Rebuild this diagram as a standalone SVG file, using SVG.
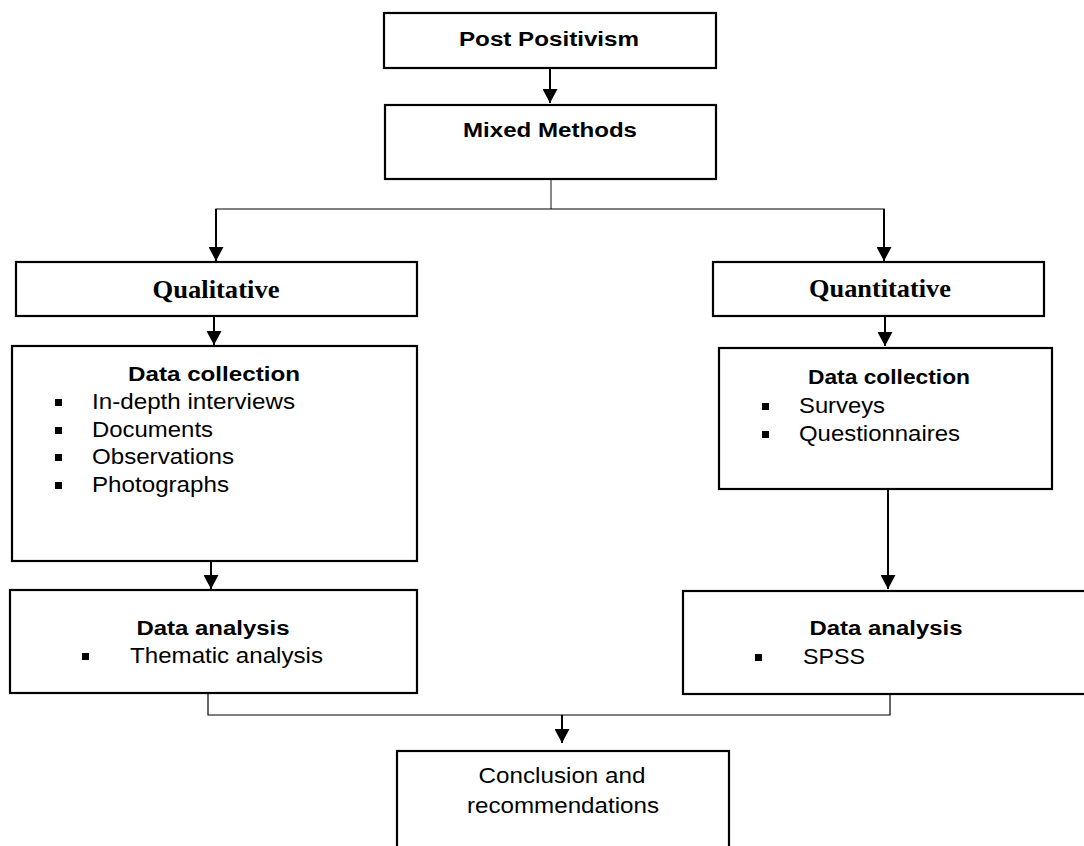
<svg xmlns="http://www.w3.org/2000/svg" width="1084" height="846" viewBox="0 0 1084 846">
<defs>
<marker id="ah" viewBox="0 0 14 15" refX="14" refY="7.5" markerWidth="14" markerHeight="15" markerUnits="userSpaceOnUse" orient="auto">
<path d="M0,0 L14,7.5 L0,15 z" fill="#000"/>
</marker>
</defs>
<style>
.box{fill:#fff;stroke:#000;stroke-width:2.2}
.arr{stroke:#000;stroke-width:2;fill:none}
.thin{stroke:#000;stroke-width:1.2;fill:none}
.stem{stroke:#555;stroke-width:1.4;fill:none}
.hb{font-family:"Liberation Sans",Arial,sans-serif;font-weight:bold;font-size:20px;fill:#000}
.ht{font-family:"Liberation Serif","Times New Roman",serif;font-weight:bold;font-size:26px;fill:#000}
.it{font-family:"Liberation Sans",Arial,sans-serif;font-size:22px;fill:#000}
.cn{font-family:"Liberation Sans",Arial,sans-serif;font-size:22px;fill:#000}
.bul{fill:#000}
</style>
<rect width="1084" height="846" fill="#fff"/>
<g id="connectors">
<line class="arr" x1="550" y1="68" x2="550" y2="103" marker-end="url(#ah)"/>
<line class="stem" x1="551" y1="180" x2="551" y2="209"/>
<polyline class="thin" points="216,261 216,209 884,209 884,261"/>
<line class="arr" x1="216" y1="209" x2="216" y2="261" marker-end="url(#ah)"/>
<line class="arr" x1="884" y1="209" x2="884" y2="261" marker-end="url(#ah)"/>
<line class="arr" x1="214" y1="316" x2="214" y2="345" marker-end="url(#ah)"/>
<line class="arr" x1="885" y1="316" x2="885" y2="346" marker-end="url(#ah)"/>
<line class="arr" x1="211" y1="561" x2="211" y2="589" marker-end="url(#ah)"/>
<line class="arr" x1="888" y1="489" x2="888" y2="589" marker-end="url(#ah)"/>
<polyline class="thin" points="208,693 208,715 890,715 890,694"/>
<line class="arr" x1="562" y1="715" x2="562" y2="743" marker-end="url(#ah)"/>
</g>
<g id="post-positivism">
<rect class="box" x="384" y="13" width="332" height="55"/>
<text class="hb" x="549" y="46" text-anchor="middle" textLength="180" lengthAdjust="spacingAndGlyphs">Post Positivism</text>
</g>
<g id="mixed-methods">
<rect class="box" x="385" y="105" width="331" height="74"/>
<text class="hb" x="550" y="137" text-anchor="middle" textLength="174" lengthAdjust="spacingAndGlyphs">Mixed Methods</text>
</g>
<g id="qualitative">
<rect class="box" x="16" y="262" width="401" height="54"/>
<text class="ht" x="216" y="298" text-anchor="middle" textLength="127" lengthAdjust="spacingAndGlyphs">Qualitative</text>
</g>
<g id="quantitative">
<rect class="box" x="713" y="262" width="331" height="54"/>
<text class="ht" x="880" y="297" text-anchor="middle" textLength="142" lengthAdjust="spacingAndGlyphs">Quantitative</text>
</g>
<g id="qual-data-collection">
<rect class="box" x="12" y="346" width="405" height="215"/>
<text class="hb" x="214" y="381" text-anchor="middle" textLength="172" lengthAdjust="spacingAndGlyphs">Data collection</text>
<rect class="bul" x="55" y="399" width="7" height="7"/>
<text class="it" x="92" y="409" textLength="203" lengthAdjust="spacingAndGlyphs">In-depth interviews</text>
<rect class="bul" x="55" y="427" width="7" height="7"/>
<text class="it" x="92" y="437" textLength="121" lengthAdjust="spacingAndGlyphs">Documents</text>
<rect class="bul" x="55" y="454" width="7" height="7"/>
<text class="it" x="92" y="464" textLength="142" lengthAdjust="spacingAndGlyphs">Observations</text>
<rect class="bul" x="55" y="482" width="7" height="7"/>
<text class="it" x="92" y="492" textLength="137" lengthAdjust="spacingAndGlyphs">Photographs</text>
</g>
<g id="quant-data-collection">
<rect class="box" x="719" y="348" width="333" height="141"/>
<text class="hb" x="889" y="384" text-anchor="middle" textLength="162" lengthAdjust="spacingAndGlyphs">Data collection</text>
<rect class="bul" x="762" y="403" width="7" height="7"/>
<text class="it" x="799" y="413" textLength="86" lengthAdjust="spacingAndGlyphs">Surveys</text>
<rect class="bul" x="762" y="431" width="7" height="7"/>
<text class="it" x="799" y="441" textLength="161" lengthAdjust="spacingAndGlyphs">Questionnaires</text>
</g>
<g id="qual-data-analysis">
<rect class="box" x="10" y="590" width="407" height="103"/>
<text class="hb" x="213" y="635" text-anchor="middle" textLength="153" lengthAdjust="spacingAndGlyphs">Data analysis</text>
<rect class="bul" x="82" y="653" width="7" height="7"/>
<text class="it" x="130" y="663" textLength="193" lengthAdjust="spacingAndGlyphs">Thematic analysis</text>
</g>
<g id="quant-data-analysis">
<rect class="box" x="683" y="591" width="410" height="103"/>
<text class="hb" x="886" y="635" text-anchor="middle" textLength="153" lengthAdjust="spacingAndGlyphs">Data analysis</text>
<rect class="bul" x="755" y="654" width="7" height="7"/>
<text class="it" x="803" y="664" textLength="62" lengthAdjust="spacingAndGlyphs">SPSS</text>
</g>
<g id="conclusion">
<rect class="box" x="397" y="751" width="332" height="110"/>
<text class="cn" x="562" y="783" text-anchor="middle" textLength="167" lengthAdjust="spacingAndGlyphs">Conclusion and</text>
<text class="cn" x="563" y="813" text-anchor="middle" textLength="192" lengthAdjust="spacingAndGlyphs">recommendations</text>
</g>
</svg>
